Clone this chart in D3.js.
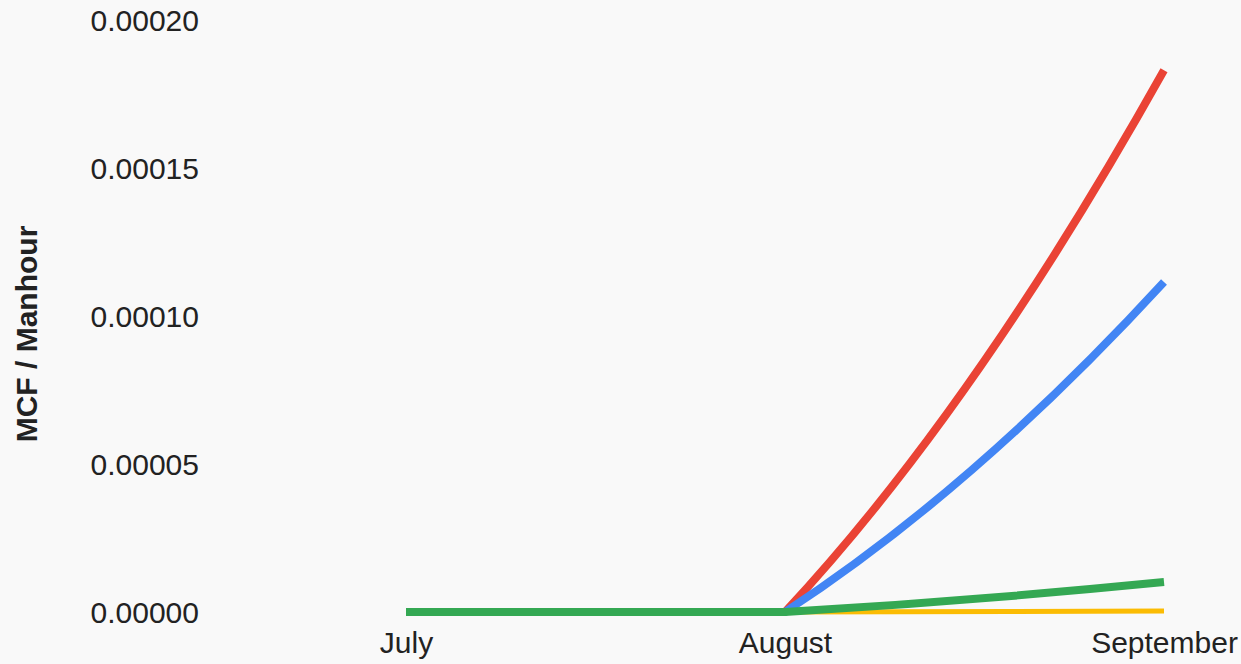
<!DOCTYPE html>
<html>
<head>
<meta charset="utf-8">
<script src="https://cdn.jsdelivr.net/npm/d3@7"></script>
<style>
  html, body { margin: 0; padding: 0; background: #f9f9f9; }
  svg { display: block; }
  text { font-family: "Liberation Sans", Arial, sans-serif; fill: #222; }
</style>
</head>
<body>
<svg id="chart" width="1241" height="664"></svg>
<script>
const categories = ["July", "August", "September"];
const yTicks = [0, 0.00005, 0.0001, 0.00015, 0.0002];
const seriesNames = ["Red", "Blue", "Yellow", "Green"];
const redValues = [0, 0, 0.000183];
const blueValues = [0, 0, 0.0001115];
const yellowValues = [0, 0, 0.0000003];
const greenValues = [0, 0, 0.0000101];
const colors = ["#ea4335", "#4285f4", "#fbbc04", "#34a853"];
const widths = [8, 8, 5, 8];

const series = [redValues, blueValues, yellowValues, greenValues];

// Smooth curve with control points clamped to each segment's range
function ClampedSmooth(context) { this._context = context; }
ClampedSmooth.prototype = {
  areaStart() { this._line = 0; },
  areaEnd() { this._line = NaN; },
  lineStart() { this._xs = []; this._ys = []; },
  point(x, y) { this._xs.push(+x); this._ys.push(+y); },
  lineEnd() {
    const xs = this._xs, ys = this._ys, n = xs.length, c = this._context;
    if (!n) return;
    c.moveTo(xs[0], ys[0]);
    if (n === 1) return;
    const s = [];
    for (let i = 0; i < n - 1; i++) s.push((ys[i + 1] - ys[i]) / (xs[i + 1] - xs[i]));
    const t = new Array(n);
    for (let i = 1; i < n - 1; i++) t[i] = 0.75 * (s[i - 1] + s[i]);
    if (n === 2) { t[0] = s[0]; t[1] = s[0]; }
    else {
      t[0] = 2 * s[0] - t[1];
      t[n - 1] = 2 * s[n - 2] - t[n - 2];
    }
    for (let i = 0; i < n - 1; i++) {
      const h = xs[i + 1] - xs[i];
      const lo = Math.min(ys[i], ys[i + 1]), hi = Math.max(ys[i], ys[i + 1]);
      const cl = v => Math.max(lo, Math.min(hi, v));
      c.bezierCurveTo(
        xs[i] + h / 3, cl(ys[i] + t[i] * h / 3),
        xs[i + 1] - h / 3, cl(ys[i + 1] - t[i + 1] * h / 3),
        xs[i + 1], ys[i + 1]);
    }
  }
};
const clampedSmooth = ctx => new ClampedSmooth(ctx);

const svg = d3.select("#chart");
const W = 1241, H = 664;
svg.append("rect").attr("width", W).attr("height", H).attr("fill", "#f9f9f9");

const x = d3.scalePoint().domain(categories).range([406, 1164]);
const y = d3.scaleLinear().domain([0, 0.0002]).range([612, 20]);

// Y axis labels
const yAxis = d3.axisLeft(y).tickValues(yTicks).tickFormat(d3.format(".5f")).tickSize(0).tickPadding(0);
const gy = svg.append("g").attr("transform", "translate(199,0)").call(yAxis);
gy.select(".domain").remove();
gy.selectAll("text").attr("font-size", 30).attr("fill", "#222")
  .attr("font-family", "'Liberation Sans', Arial, sans-serif").attr("dy", "0.36em");

// X axis labels
const xAxis = d3.axisBottom(x).tickSize(0).tickPadding(0);
const gx = svg.append("g").attr("transform", "translate(0,632)").call(xAxis);
gx.select(".domain").remove();
gx.selectAll("text").attr("font-size", 30).attr("fill", "#222")
  .attr("font-family", "'Liberation Sans', Arial, sans-serif").attr("dy", "0.71em");

// Y axis title
svg.append("text")
  .attr("transform", "translate(37,334) rotate(-90)")
  .attr("text-anchor", "middle")
  .attr("font-size", 30)
  .attr("font-weight", "bold")
  .text("MCF / Manhour");

const line = d3.line()
  .x((d, i) => x(categories[i]))
  .y(d => y(d))
  .curve(clampedSmooth);

series.forEach((vals, k) => {
  svg.append("path")
    .datum(vals)
    .attr("d", line)
    .attr("fill", "none")
    .attr("stroke", colors[k])
    .attr("stroke-width", widths[k])
    .attr("stroke-linejoin", "round")
    .attr("data-name", seriesNames[k]);
});
</script>
</body>
</html>
